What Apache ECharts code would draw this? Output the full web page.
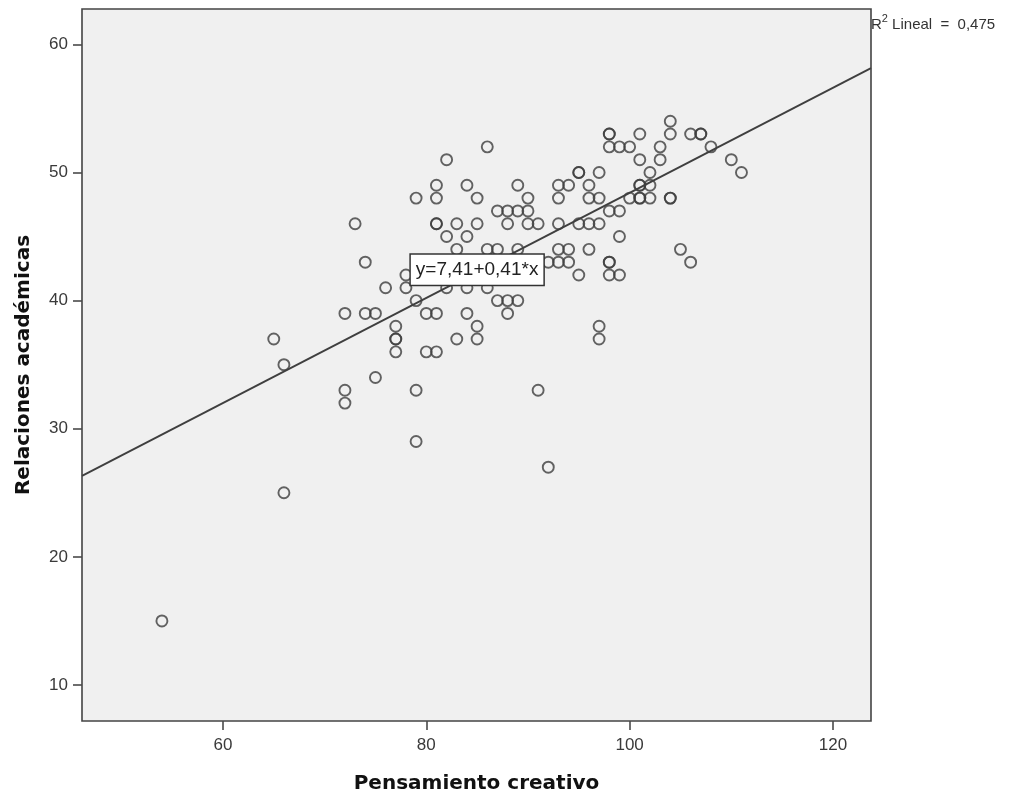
<!DOCTYPE html>
<html><head><meta charset="utf-8">
<script src="https://cdn.jsdelivr.net/npm/echarts@6/dist/echarts.min.js"></script>
<style>html,body{margin:0;padding:0;background:#fff}#c{width:1009px;height:796px}</style>
</head><body><div id="c"></div>
<script>
// Pensamiento creativo (x) and Relaciones académicas (y), one entry per case
const pensamiento = [54,65,66,66,72,72,72,73,74,74,75,75,76,77,77,77,77,78,78,79,79,79,79,80,80,81,81,81,81,81,81,82,82,82,83,83,83,84,84,84,84,85,85,85,85,86,86,86,87,87,87,88,88,88,88,89,89,89,89,90,90,90,91,91,92,92,93,93,93,93,93,94,94,94,95,95,95,95,96,96,96,96,97,97,97,97,97,98,98,98,98,98,98,98,99,99,99,99,100,100,101,101,101,101,101,101,102,102,102,103,103,104,104,104,104,105,106,106,107,107,108,110,111];
const relaciones = [15,37,35,25,39,33,32,46,43,39,39,34,41,38,37,37,36,42,41,48,40,33,29,39,36,49,48,46,46,39,36,51,45,41,46,44,37,49,45,41,39,48,46,38,37,52,44,41,47,44,40,47,46,40,39,49,47,44,40,48,47,46,46,33,43,27,49,48,46,44,43,49,44,43,50,50,46,42,49,48,46,44,50,48,46,38,37,53,53,52,47,43,43,42,52,47,45,42,52,48,53,51,49,49,48,48,50,49,48,52,51,54,53,48,48,44,53,43,53,53,52,51,50];
const xTicks = [60, 80, 100, 120];
const yTicks = [10, 20, 30, 40, 50, 60];
const xRange = [46.14, 123.74];
const yRange = [7.19, 62.76];
const intercept = 7.41;
const slope = 0.41;
const fitLabel = 'y=7,41+0,41*x';
const fitLabelAt = [85, 42.4];
const r2Value = '0,475';
const xTitle = 'Pensamiento creativo';
const yTitle = 'Relaciones académicas';

const points = pensamiento.map((x, i) => [x, relaciones[i]]);
const fitLine = xRange.map(x => [x, intercept + slope * x]);

const chart = echarts.init(document.getElementById('c'), null, {renderer: 'canvas'});
const tickFont = {fontFamily: 'Liberation Sans, Arial, sans-serif', fontSize: 17, color: '#3a3a3a'};
const axisCol = '#4a4a4a';
chart.setOption({
  animation: false,
  backgroundColor: '#ffffff',
  grid: {left: 82, right: 138, top: 9, bottom: 75, show: true, containLabel: false,
         outerBoundsMode: 'none',
         backgroundColor: '#f0f0f0', borderColor: '#444', borderWidth: 1.6},
  xAxis: {
    type: 'value', min: xRange[0], max: xRange[1],
    name: xTitle, nameLocation: 'middle', nameGap: 53,
    nameTextStyle: {fontFamily: 'DejaVu Sans', fontWeight: 'bold', fontSize: 20, color: '#111'},
    axisLine: {show: false},
    splitLine: {show: false},
    axisTick: {show: true, inside: false, length: 9, customValues: xTicks, lineStyle: {color: axisCol, width: 1.6}},
    axisLabel: Object.assign({customValues: xTicks, margin: 16}, tickFont)
  },
  yAxis: {
    type: 'value', min: yRange[0], max: yRange[1],
    name: yTitle, nameLocation: 'middle', nameGap: 48,
    nameTextStyle: {fontFamily: 'DejaVu Sans', fontWeight: 'bold', fontSize: 20, color: '#111'},
    axisLine: {show: false},
    splitLine: {show: false},
    axisTick: {show: true, inside: false, length: 9, customValues: yTicks, lineStyle: {color: axisCol, width: 1.6}},
    axisLabel: Object.assign({customValues: yTicks, margin: 14}, tickFont)
  },
  series: [
    {
      type: 'scatter', data: points, symbol: 'circle', symbolSize: 11,
      itemStyle: {color: 'rgba(0,0,0,0)', borderColor: '#3d3d3d', borderWidth: 1.9},
      emphasis: {disabled: true}, z: 2
    },
    {
      type: 'line', data: fitLine, showSymbol: false, silent: true,
      lineStyle: {color: '#3f3f3f', width: 1.9}, z: 3,
      markPoint: {
        symbol: 'rect', symbolSize: 1, silent: true,
        itemStyle: {color: 'rgba(0,0,0,0)'},
        label: {show: true, position: 'inside', formatter: fitLabel,
          fontFamily: 'Liberation Sans, Arial, sans-serif', fontSize: 19, color: '#222',
          backgroundColor: '#ffffff', borderColor: '#333', borderWidth: 1.5,
          padding: [6, 5, 5, 5]},
        data: [{coord: fitLabelAt}]
      }
    }
  ],
  graphic: [{
    type: 'text', left: 871, top: 13, z: 10,
    style: {
      text: '{a|R}{s|2}{a| Lineal  =  ' + r2Value + '}',
      rich: {
        a: {fontFamily: 'Liberation Sans, Arial, sans-serif', fontSize: 15, fill: '#333', verticalAlign: 'bottom', lineHeight: 19},
        s: {fontFamily: 'Liberation Sans, Arial, sans-serif', fontSize: 11, fill: '#333', verticalAlign: 'top', lineHeight: 19}
      }
    }
  }]
});
</script></body></html>
